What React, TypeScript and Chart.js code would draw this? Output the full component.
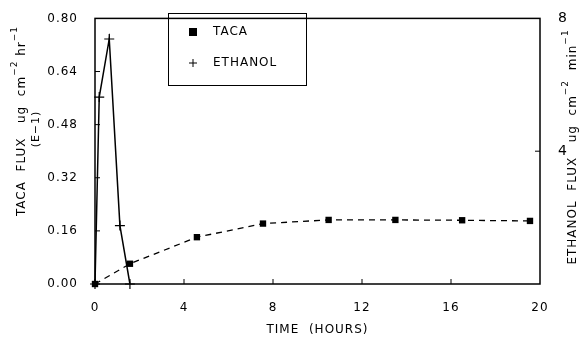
import React, { useEffect, useRef } from 'react';
import { Chart, registerables } from 'chart.js';

Chart.register(...registerables);

// ---- data ----
const tacaHours = [0, 1.57, 4.58, 7.55, 10.5, 13.5, 16.5, 19.55];
const tacaFlux = [0, 0.061, 0.141, 0.182, 0.193, 0.193, 0.192, 0.19];
const ethanolHours = [0, 0.19, 0.64, 1.12, 1.57];
const ethanolFlux = [0, 5.63, 7.38, 1.76, 0];

const xTickValues = [0, 4, 8, 12, 16, 20];
const xTickLabels = ['0', '4', '8', '12', '16', '20'];
const leftTickValues = [0, 0.16, 0.32, 0.48, 0.64, 0.8];
const leftTickLabels = ['0.00', '0.16', '0.32', '0.48', '0.64', '0.80'];
const rightTickValues = [0, 4, 8];
const rightTickLabels = ['', '4', '8'];

const legendLabels = ['TACA', 'ETHANOL'];
const xTitle = 'TIME  (HOURS)';

const FONT = "'DejaVu Sans', 'Liberation Sans', sans-serif";

type Seg = { t: string; sup?: boolean };

const leftTitle: Seg[] = [
  { t: 'TACA  FLUX   ug  cm' },
  { t: '−2', sup: true },
  { t: ' hr' },
  { t: '−1', sup: true },
];
const leftTitle2 = '(E−1)';
const rightTitle: Seg[] = [
  { t: 'ETHANOL  FLUX   ug  cm' },
  { t: '−2', sup: true },
  { t: '  min' },
  { t: '−1', sup: true },
];

function drawRich(ctx: CanvasRenderingContext2D, segs: Seg[], cx: number, cy: number, rot: number, size: number) {
  ctx.save();
  ctx.translate(cx, cy);
  ctx.rotate(rot);
  ctx.textBaseline = 'middle';
  ctx.textAlign = 'left';
  const widths = segs.map((s) => {
    ctx.font = `${s.sup ? size - 3 : size}px ${FONT}`;
    return ctx.measureText(s.t).width;
  });
  const total = widths.reduce((a, b) => a + b, 0);
  let x = -total / 2;
  segs.forEach((s, i) => {
    ctx.font = `${s.sup ? size - 3 : size}px ${FONT}`;
    ctx.fillText(s.t, x, s.sup ? -7 : 0);
    x += widths[i];
  });
  ctx.restore();
}

const framePlugin = {
  id: 'frame',
  beforeUpdate(chart: any) {
    chart.ctx.letterSpacing = '1px';
  },
  beforeDraw(chart: any) {
    const ctx = chart.ctx;
    ctx.letterSpacing = '1px';
    ctx.save();
    ctx.fillStyle = '#fff';
    ctx.fillRect(0, 0, chart.width, chart.height);
    ctx.restore();
  },
  afterDraw(chart: any) {
    const { ctx, chartArea: a, scales } = chart;
    ctx.save();
    ctx.letterSpacing = '1px';
    ctx.strokeStyle = '#000';
    ctx.fillStyle = '#000';
    ctx.lineWidth = 1.5;
    ctx.strokeRect(a.left, a.top, a.right - a.left, a.bottom - a.top);
    ctx.lineWidth = 1;
    ctx.beginPath();
    leftTickValues.slice(1, -1).forEach((v) => {
      const y = scales.y.getPixelForValue(v);
      ctx.moveTo(a.left, y);
      ctx.lineTo(a.left + 5, y);
    });
    xTickValues.slice(1, -1).forEach((v) => {
      const x = scales.x.getPixelForValue(v);
      ctx.moveTo(x, a.bottom);
      ctx.lineTo(x, a.bottom - 5);
    });
    rightTickValues.slice(1, -1).forEach((v) => {
      const y = scales.y2.getPixelForValue(v);
      ctx.moveTo(a.right, y);
      ctx.lineTo(a.right - 5, y);
    });
    ctx.stroke();

    // legend box
    ctx.lineWidth = 1;
    ctx.strokeRect(168.5, 13.5, 138, 72);
    ctx.fillRect(189, 28, 8, 8);
    ctx.beginPath();
    ctx.moveTo(189, 63);
    ctx.lineTo(197, 63);
    ctx.moveTo(193, 59);
    ctx.lineTo(193, 67);
    ctx.stroke();
    ctx.font = `12px ${FONT}`;
    ctx.textBaseline = 'middle';
    ctx.textAlign = 'left';
    ctx.fillText(legendLabels[0], 213, 32);
    ctx.fillText(legendLabels[1], 213, 63);

    // x title
    ctx.textAlign = 'center';
    ctx.font = `12px ${FONT}`;
    ctx.fillText(xTitle, (a.left + a.right) / 2, 330);

    // left titles
    drawRich(ctx, leftTitle, 22, 121, -Math.PI / 2, 12);
    ctx.save();
    ctx.translate(36, 129);
    ctx.rotate(-Math.PI / 2);
    ctx.font = `11px ${FONT}`;
    ctx.textAlign = 'center';
    ctx.textBaseline = 'middle';
    ctx.fillText(leftTitle2, 0, 0);
    ctx.restore();

    // right title
    drawRich(ctx, rightTitle, 573, 147, -Math.PI / 2, 12);
    ctx.restore();
  },
};

export default function App() {
  const ref = useRef<HTMLCanvasElement>(null);
  useEffect(() => {
    if (!ref.current) return;
    const chart = new Chart(ref.current, {
      type: 'line',
      data: {
        datasets: [
          {
            label: legendLabels[0],
            data: tacaHours.map((h, i) => ({ x: h, y: tacaFlux[i] })),
            yAxisID: 'y',
            borderColor: '#000',
            backgroundColor: '#000',
            borderWidth: 1.3,
            borderDash: [6, 5],
            pointStyle: 'rect',
            pointRadius: 4.5,
            pointBorderWidth: 0,
            tension: 0,
            clip: false,
          } as any,
          {
            label: legendLabels[1],
            data: ethanolHours.map((h, i) => ({ x: h, y: ethanolFlux[i] })),
            yAxisID: 'y2',
            borderColor: '#000',
            backgroundColor: '#000',
            borderWidth: 1.5,
            pointStyle: 'cross',
            pointRadius: 5,
            pointBorderWidth: 1.2,
            tension: 0,
            clip: false,
          } as any,
        ],
      },
      options: {
        animation: false,
        responsive: true,
        maintainAspectRatio: false,
        layout: { padding: { top: 11, left: 0, right: 0, bottom: 0 } },
        plugins: { legend: { display: false }, tooltip: { enabled: false } },
        scales: {
          x: {
            type: 'linear',
            min: 0,
            max: 20,
            grid: { display: false },
            border: { display: false },
            afterBuildTicks: (s: any) => {
              s.ticks = xTickValues.map((v) => ({ value: v }));
            },
            afterFit: (s: any) => {
              s.height = 59;
            },
            ticks: {
              color: '#000',
              font: { family: FONT, size: 12 },
              padding: 9,
              maxRotation: 0,
              callback: (v: any) => xTickLabels[xTickValues.indexOf(Number(v))] ?? '',
            },
          },
          y: {
            type: 'linear',
            position: 'left',
            min: 0,
            max: 0.8,
            grid: { display: false },
            border: { display: false },
            afterBuildTicks: (s: any) => {
              s.ticks = leftTickValues.map((v) => ({ value: v }));
            },
            afterFit: (s: any) => {
              s.width = 95;
            },
            ticks: {
              color: '#000',
              font: { family: FONT, size: 12 },
              padding: 9,
              callback: (v: any) => {
                const i = leftTickValues.findIndex((t) => Math.abs(t - Number(v)) < 1e-6);
                return i >= 0 ? leftTickLabels[i] : '';
              },
            },
          },
          y2: {
            type: 'linear',
            position: 'right',
            min: 0,
            max: 8,
            grid: { display: false },
            border: { display: false },
            afterBuildTicks: (s: any) => {
              s.ticks = rightTickValues.map((v) => ({ value: v }));
            },
            afterFit: (s: any) => {
              s.width = 43;
            },
            ticks: {
              color: '#000',
              font: { family: FONT, size: 14 },
              padding: 10,
              callback: (v: any) => rightTickLabels[rightTickValues.indexOf(Number(v))] ?? '',
            },
          },
        },
      } as any,
      plugins: [framePlugin as any],
    });
    return () => chart.destroy();
  }, []);

  return (
    <div style={{ position: 'fixed', left: 0, top: 0, width: 583, height: 343, background: '#fff' }}>
      <canvas ref={ref} />
    </div>
  );
}
